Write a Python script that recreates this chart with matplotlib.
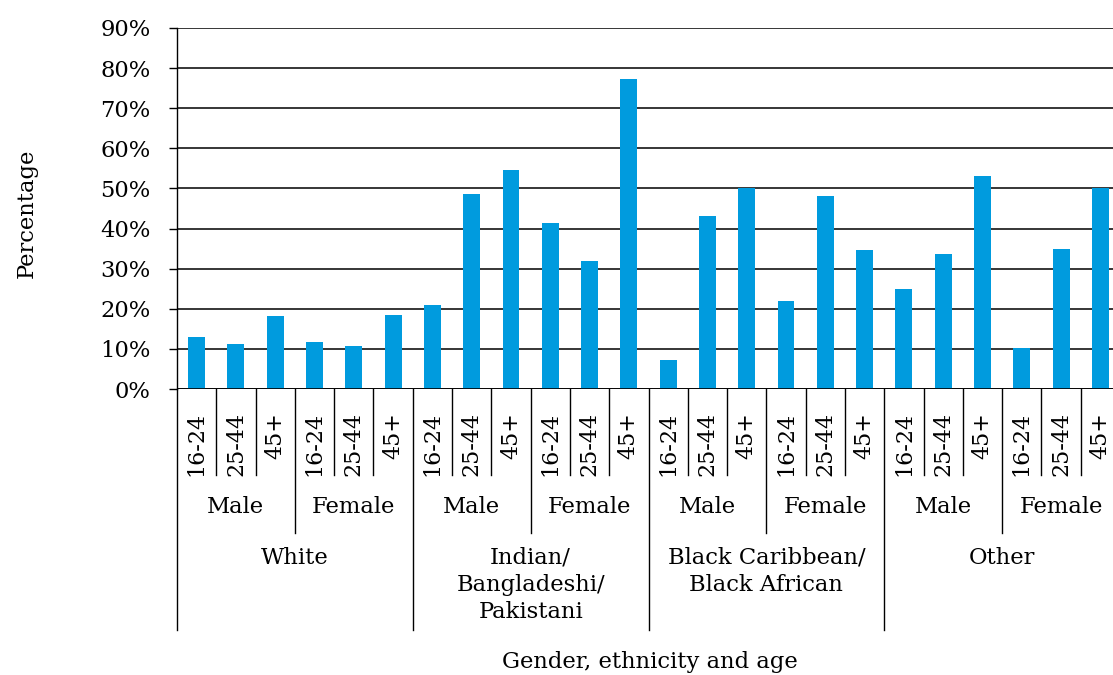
import numpy as np
import matplotlib
matplotlib.use('Agg')
import matplotlib.pyplot as plt
from matplotlib.ticker import FuncFormatter
import matplotlib.transforms as mtransforms

# Data
ethnic_groups = ['White', 'Indian/\nBangladeshi/\nPakistani', 'Black Caribbean/\nBlack African', 'Other']
genders = ['Male', 'Female']
age_groups = ['16-24', '25-44', '45+']
values = [
    13.0, 11.1, 18.3, 11.6, 10.6, 18.5,   # White
    21.0, 48.7, 54.7, 41.5, 31.8, 77.4,   # Indian/Bangladeshi/Pakistani
    7.3, 43.2, 50.0, 22.0, 48.2, 34.7,    # Black Caribbean/Black African
    25.0, 33.7, 53.0, 10.3, 35.0, 50.0,   # Other
]

W, H = 1113, 675
plt.rcParams['font.family'] = 'DejaVu Serif'
plt.rcParams['font.size'] = 16.3

fig = plt.figure(figsize=(W / 100, H / 100), dpi=100)
# axes runs a little past the right edge, as in the reference
x0, x1, y0, y1 = 177, 1120, 389, 28
ax = fig.add_axes([x0 / W, 1 - y0 / H, (x1 - x0) / W, (y0 - y1) / H])

n = len(values)
x = np.arange(n)
ax.bar(x, np.array(values) / 100, width=0.43, color='#009bde', zorder=3)

ax.set_xlim(-0.5, n - 0.5)
ax.set_ylim(0, 0.9)
ax.set_yticks(np.arange(0, 0.91, 0.1))
ax.yaxis.set_major_formatter(FuncFormatter(lambda v, p: f'{v * 100:.0f}%'))
ax.yaxis.grid(True, color='black', linewidth=1.1, zorder=0)
ax.tick_params(axis='y', length=6, width=1, pad=13, labelsize=16.3)
ax.set_xticks([])
for s in ['top', 'right', 'bottom']:
    ax.spines[s].set_visible(False)
ax.spines['left'].set_linewidth(1.0)
ax.axhline(0, color='black', linewidth=1.2, zorder=4)

ax_h = y0 - y1


def off(px):
    # pixel offset below the baseline -> axes fraction
    return -px / ax_h


trans = mtransforms.blended_transform_factory(ax.transData, ax.transAxes)


def vline(xv, depth):
    ax.plot([xv, xv], [0, off(depth)], transform=trans, color='black',
            linewidth=1.0, clip_on=False)


# dividers between age groups, genders and ethnic groups
for i in range(n + 1):
    xv = i - 0.5
    if i % 6 == 0:
        vline(xv, 241)
    elif i % 3 == 0:
        vline(xv, 144)
    else:
        vline(xv, 86)

# age labels
for i in range(n):
    ax.text(i, off(23), age_groups[i % 3], transform=trans, rotation=90,
            ha='center', va='top', fontsize=16)

# gender labels
for j in range(n // 3):
    ax.text(3 * j + 1, off(118), genders[j % 2], transform=trans,
            ha='center', va='center')

# ethnic group labels
for k, name in enumerate(ethnic_groups):
    ax.text(6 * k + 2.5, off(158), name, transform=trans, ha='center',
            va='top', linespacing=1.28)

fig.text(27 / W, 1 - 213 / H, 'Percentage', rotation=90, ha='center',
         va='center')
fig.text(650 / W, 1 - 662 / H, 'Gender, ethnicity and age', ha='center',
         va='center')

fig.savefig('out.png', dpi=100)
plt.close(fig)
